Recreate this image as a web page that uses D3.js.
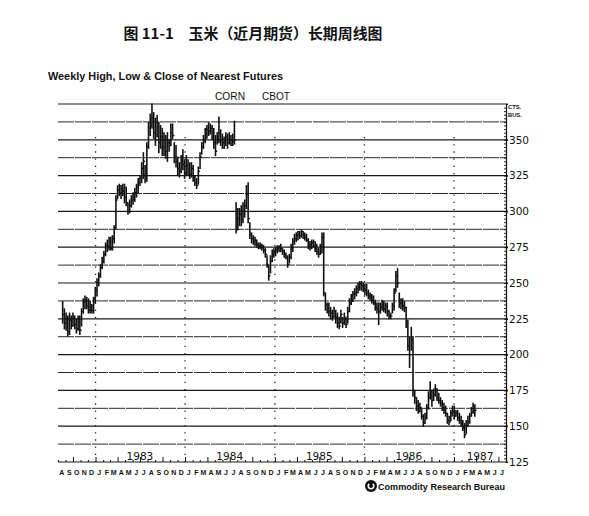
<!DOCTYPE html>
<html><head><meta charset="utf-8">
<script src="https://cdn.jsdelivr.net/npm/d3@7"></script>
<style>body{margin:0;background:#fff}svg{display:block}</style>
</head><body>
<svg id="c" width="589" height="516"></svg>
<script>
// ---- data ----
const firstWeek = "1982-08-20";
const high = [237,232,229,227,229,227,229,227,225,227,227,232,239,241,240,239,237,235,240,247,
253,257,263,268,272,278,280,282,282,283,290,311,318,319,318,319,319,317,306,308,
311,313,316,319,323,325,334,341,332,348,362,368,375,369,365,367,362,360,358,355,
353,355,350,361,361,348,346,338,334,339,343,336,339,336,334,334,332,325,323,331,
341,348,353,358,360,362,361,360,358,353,355,366,357,354,352,355,354,355,353,354,
363,306,302,302,304,306,308,318,320,292,285,283,282,280,278,278,277,276,274,269,
262,269,273,274,275,276,276,277,274,273,271,269,270,277,281,284,285,286,286,287,
286,285,284,281,279,280,280,279,277,274,277,285,285,243,236,236,233,231,233,231,
229,226,231,226,229,226,233,239,242,244,246,248,250,251,251,250,249,249,245,243,
242,241,238,236,236,236,238,237,236,236,231,229,236,246,258,260,243,239,239,237,
233,224,212,219,212,175,170,168,166,162,158,159,165,174,181,175,176,179,176,173,
170,168,166,164,159,157,161,164,164,161,161,159,157,154,152,154,157,159,163,166,165];
const low = [222,218,217,213,214,218,220,218,215,217,214,220,229,232,232,229,229,229,229,236,
241,248,254,260,264,269,272,273,273,273,278,288,309,311,309,311,306,304,298,299,
303,305,307,310,313,318,320,323,320,321,344,353,358,351,346,352,341,344,339,339,
337,335,342,346,351,334,331,325,324,327,329,323,325,325,323,324,321,318,316,319,
330,340,344,348,351,353,354,350,344,339,347,348,346,344,344,346,344,347,346,346,
347,285,287,290,290,292,296,302,292,281,278,277,276,275,274,274,273,271,268,261,
252,257,265,268,269,271,272,272,270,268,267,261,264,267,272,277,279,280,281,282,
281,280,279,274,273,274,275,272,270,268,270,271,241,231,229,227,225,224,226,222,
219,218,222,219,221,219,222,230,235,237,239,241,243,245,245,244,242,241,239,238,
236,235,231,229,221,229,231,230,229,227,225,225,229,231,244,247,233,232,231,230,
219,203,191,203,171,166,161,159,160,155,150,152,155,162,169,164,168,171,168,166,
164,161,159,157,152,151,154,157,155,157,154,152,150,147,142,145,150,152,157,159,157];
const close = [228,222,225,216,224,220,226,221,218,225,217,230,237,238,234,231,233,231,239,245,
250,255,261,265,270,276,275,279,274,281,288,308,315,313,316,314,310,306,300,304,
308,310,313,317,320,323,330,335,325,345,358,360,365,355,350,362,348,352,345,350,
342,348,346,355,353,338,335,330,328,335,333,327,332,330,326,330,324,320,318,328,
338,345,350,354,357,356,358,352,348,342,352,355,350,348,346,352,348,350,347,349,
350,290,295,298,294,300,304,312,295,284,281,279,280,277,276,275,276,273,270,263,
255,265,270,272,273,274,275,274,272,270,268,263,268,274,279,281,283,284,283,286,
284,282,280,276,277,278,276,274,272,270,275,282,243,235,232,230,229,226,230,226,
222,220,228,222,225,221,230,236,238,242,243,246,247,249,248,246,245,243,241,240,
238,236,233,232,230,233,235,232,234,230,227,227,234,243,255,250,236,236,234,233,
222,206,200,210,175,170,164,162,163,157,152,156,163,170,175,168,172,176,170,168,
166,163,161,159,154,153,159,160,157,159,156,154,152,149,144,150,153,157,160,164,161];
const priceLabels = [125,150,175,200,225,250,275,300,325,350];
const yearLabels = ["1983","1984","1985","1986","1987"];
const monthLetters = ["J","F","M","A","M","J","J","A","S","O","N","D"];
const titleText = "图 11-1　玉米（近月期货）长期周线图";
const subtitleText = "Weekly High, Low & Close of Nearest Futures";
const unitText = ["CTS.","BUS."];
const sourceText = "Commodity Research Bureau";

// ---- layout ----
const svg = d3.select("#c");
const L = 58, R = 506, T = 104, B = 462;
const t0 = new Date(Date.UTC(1982,7,1)), t1 = new Date(Date.UTC(1987,7,1));
const x = d3.scaleUtc().domain([t0,t1]).range([L,R]);
const y = d3.scaleLinear().domain([125,375]).range([B,T]);
const start = new Date(firstWeek + "T00:00:00Z");
const weeks = high.map((h,i)=>({d:d3.utcDay.offset(start,7*i),h:h,l:low[i],c:close[i]}));
const ink = "#111";

// title
svg.append("text").attr("x",253).attr("y",38.5).attr("text-anchor","middle")
  .attr("font-family","'Noto Sans CJK SC'").attr("font-weight","bold").attr("font-size",14.5)
  .attr("textLength",259).attr("lengthAdjust","spacingAndGlyphs").attr("fill","#111").text(titleText);
svg.append("text").attr("x",48).attr("y",80).attr("font-family","'Liberation Sans',Arial")
  .attr("font-weight","bold").attr("font-size",10).attr("textLength",235).attr("lengthAdjust","spacingAndGlyphs")
  .attr("fill","#111").text(subtitleText);
svg.append("text").attr("x",215).attr("y",100).attr("font-family","'Liberation Sans',Arial")
  .attr("font-size",11.5).attr("textLength",30).attr("lengthAdjust","spacingAndGlyphs").attr("fill","#111").text("CORN");
svg.append("text").attr("x",262).attr("y",100).attr("font-family","'Liberation Sans',Arial")
  .attr("font-size",11.5).attr("textLength",28).attr("lengthAdjust","spacingAndGlyphs").attr("fill","#111").text("CBOT");

// grid lines
const grid = d3.range(125,375.01,12.5);
svg.append("g").selectAll("line").data(grid).join("line")
  .attr("x1",L).attr("x2",d=>d%25===0? R+2 : R)
  .attr("y1",d=>y(d)).attr("y2",d=>y(d))
  .attr("stroke",d=>d%25===0?"#1a1a1a":"#2a2a2a")
  .attr("stroke-width",d=>d%25===0?1.2:1)
  .attr("stroke-dasharray",d=>d%25===0?null:"16,1");

// year dotted lines
svg.append("g").selectAll("line").data(d3.utcYears(d3.utcDay.offset(t0,1),t1)).join("line")
  .attr("x1",d=>x(d)).attr("x2",d=>x(d)).attr("y1",y(352)).attr("y2",B)
  .attr("stroke","#222").attr("stroke-width",1.3).attr("stroke-dasharray","1.3,5.9");

// right axis
const ax = svg.append("g").attr("transform",`translate(${R},0)`)
  .call(d3.axisRight(y).tickValues(priceLabels).tickSize(2).tickPadding(1).tickFormat(d3.format("d")));
ax.select(".domain").attr("stroke",ink).attr("stroke-width",1.2);
ax.selectAll(".tick line").attr("stroke",ink);
ax.selectAll("text").attr("font-family","'DejaVu Sans'").attr("font-size",10.5).attr("fill","#111");
const axm = svg.append("g").attr("transform",`translate(${R},0)`)
  .call(d3.axisLeft(y).tickValues(d3.range(127.5,375,2.5)).tickSize(2).tickFormat(""));
axm.select(".domain").remove();
axm.selectAll(".tick line").attr("stroke",ink).attr("stroke-width",0.9);
svg.append("text").attr("x",508).attr("y",109).attr("font-family","'Liberation Sans',Arial")
  .attr("font-weight","bold").attr("font-size",5.8).attr("fill","#111").text(unitText[0]);
svg.append("text").attr("x",508).attr("y",117).attr("font-family","'Liberation Sans',Arial")
  .attr("font-weight","bold").attr("font-size",5.8).attr("fill","#111").text(unitText[1]);

// bottom axis ticks
const months = d3.utcMonths(t0,t1);
const bx = svg.append("g").attr("transform",`translate(0,${B})`)
  .call(d3.axisTop(x).tickValues(months).tickSize(2).tickFormat(""));
bx.select(".domain").remove();
bx.selectAll(".tick line").attr("stroke",ink).attr("stroke-width",1)
  .attr("y2",d=>d.getUTCMonth()%3===0?-5:-2);

// year labels
svg.append("g").selectAll("text").data(yearLabels).join("text")
  .attr("x",d=>Math.min(x(new Date(Date.UTC(+d,6,1))), R-26))
  .attr("y",459.5).attr("text-anchor","middle")
  .attr("font-family","'DejaVu Sans'").attr("font-size",10.5).attr("fill","#111").text(d=>d);

// month letters
svg.append("g").selectAll("text").data(months).join("text")
  .attr("x",d=>x(new Date(d.getTime()+15*864e5))).attr("y",475).attr("text-anchor","middle")
  .attr("font-family","'Liberation Sans',Arial").attr("font-weight","bold").attr("font-size",7)
  .attr("fill","#111").text(d=>monthLetters[d.getUTCMonth()]);

// bars
const bars = svg.append("g");
bars.selectAll("line.hl").data(weeks).join("line").attr("class","hl")
  .attr("x1",d=>x(d.d)).attr("x2",d=>x(d.d)).attr("y1",d=>y(d.h)-0.5).attr("y2",d=>y(d.l)+0.5)
  .attr("stroke",ink).attr("stroke-width",1.6);
bars.selectAll("line.cl").data(weeks).join("line").attr("class","cl")
  .attr("x1",d=>x(d.d)).attr("x2",d=>x(d.d)+1.8).attr("y1",d=>y(d.c)).attr("y2",d=>y(d.c))
  .attr("stroke",ink).attr("stroke-width",1.3);

// source
const lg = svg.append("g").attr("transform","translate(371,486)");
lg.append("circle").attr("r",6).attr("fill","#111");
lg.append("path").attr("d",d3.arc()({innerRadius:2,outerRadius:3.6,startAngle:0.7,endAngle:2*Math.PI-0.7}))
  .attr("fill","#fff");
svg.append("text").attr("x",378).attr("y",490).attr("font-family","'Liberation Sans',Arial")
  .attr("font-weight","bold").attr("font-size",9.5).attr("textLength",127).attr("lengthAdjust","spacingAndGlyphs")
  .attr("fill","#111").text(sourceText);
</script>
</body></html>
